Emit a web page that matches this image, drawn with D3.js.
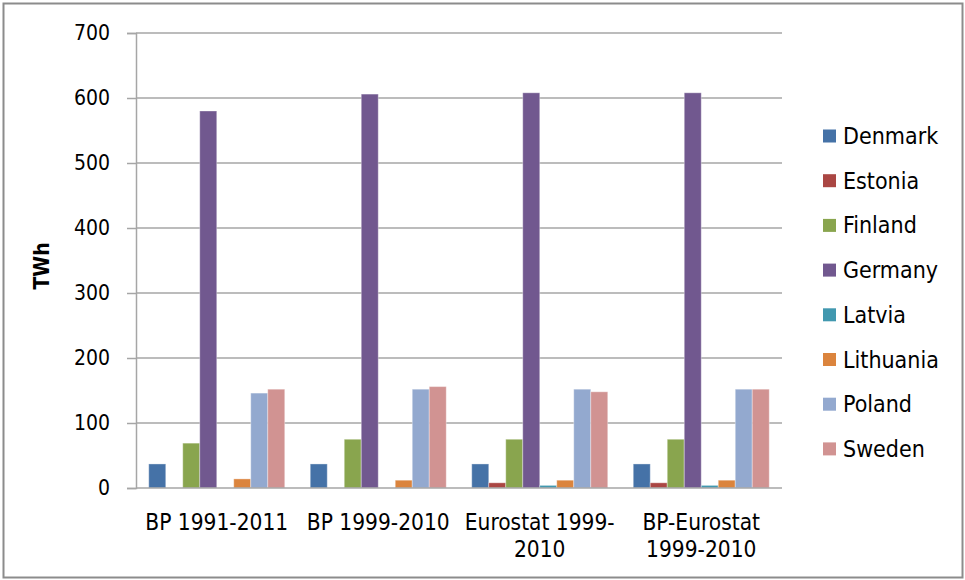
<!DOCTYPE html>
<html>
<head>
<meta charset="utf-8">
<script src="https://cdn.jsdelivr.net/npm/d3@7"></script>
<style>
  body { margin: 0; background: #fff; }
  text { font-family: "DejaVu Sans Condensed", "DejaVu Sans", sans-serif; fill: #000; }
</style>
</head>
<body>
<script>
// Size
var w = 965;
var h = 580;

// Data
var categories = [["BP 1991-2011"], ["BP 1999-2010"], ["Eurostat 1999-", "2010"], ["BP-Eurostat", "1999-2010"]];
var countries = ["Denmark", "Estonia", "Finland", "Germany", "Latvia", "Lithuania", "Poland", "Sweden"];
var colors = ["#4572A7", "#AA4643", "#89A54E", "#71588F", "#4198AF", "#DB843D", "#93A9CF", "#D19392"];
var denmark   = [37, 37, 37, 37];
var estonia   = [0, 0, 8, 8];
var finland   = [69, 75, 75, 75];
var germany   = [580, 606, 608, 608];
var latvia    = [0, 0, 4, 4];
var lithuania = [14, 12, 12, 12];
var poland    = [146, 152, 152, 152];
var sweden    = [152, 156, 148, 152];
var series = [denmark, estonia, finland, germany, latvia, lithuania, poland, sweden];
var yTicks = [0, 100, 200, 300, 400, 500, 600, 700];

var plot = { left: 136, right: 782, top: 33, bottom: 488 };

var svg = d3.select("body")
            .append("svg")
            .attr("width", w)
            .attr("height", h);

// Outer frame
svg.append("rect")
   .attr("x", 3.5).attr("y", 3.5)
   .attr("width", 959).attr("height", 574)
   .attr("fill", "#fff")
   .attr("stroke", "#8c8c8c")
   .attr("stroke-width", 2);

var x0 = d3.scaleBand()
           .domain(d3.range(categories.length))
           .range([plot.left, plot.right])
           .paddingInner(0)
           .paddingOuter(0);

// gap width 150% as in the original
var x1 = d3.scaleBand()
           .domain(d3.range(countries.length))
           .range([x0.bandwidth() * 0.75 / 9.5, x0.bandwidth() - x0.bandwidth() * 0.75 / 9.5])
           .padding(0);

var y = d3.scaleLinear()
          .domain([0, 700])
          .range([plot.bottom, plot.top]);

// Gridlines
svg.append("g")
   .selectAll("line")
   .data(yTicks.slice(1))
   .enter()
   .append("line")
   .attr("x1", plot.left)
   .attr("x2", plot.right)
   .attr("y1", function(d) { return y(d); })
   .attr("y2", function(d) { return y(d); })
   .attr("stroke", "#a6a6a6")
   .attr("stroke-width", 1.5);

// Y axis
var yAxis = svg.append("g")
   .attr("transform", "translate(" + plot.left + ",0)")
   .call(d3.axisLeft(y).tickValues(yTicks).tickSize(9).tickPadding(17));
yAxis.selectAll("path, line").attr("stroke", "#a6a6a6").attr("stroke-width", 1.5);
yAxis.selectAll("text").attr("font-size", "21px").attr("font-family", "DejaVu Sans Condensed");

// Bars
var groups = svg.append("g")
   .selectAll("g")
   .data(categories)
   .enter()
   .append("g")
   .attr("transform", function(d, i) { return "translate(" + x0(i) + ",0)"; });

groups.selectAll("rect")
   .data(function(d, ci) {
     return series.map(function(s, si) { return { si: si, v: s[ci] }; }).filter(function(d) { return d.v > 0; });
   })
   .enter()
   .append("rect")
   .attr("x", function(d) { return x1(d.si); })
   .attr("y", function(d) { return y(d.v); })
   .attr("width", x1.bandwidth())
   .attr("height", function(d) { return y(0) - y(d.v); })
   .attr("fill", function(d) { return colors[d.si]; })
   .attr("stroke", "#fff")
   .attr("stroke-opacity", 0.35)
   .attr("stroke-width", 1);

// X axis line
svg.append("line")
   .attr("x1", plot.left).attr("x2", plot.right)
   .attr("y1", y(0)).attr("y2", y(0))
   .attr("stroke", "#a6a6a6")
   .attr("stroke-width", 1.5);

// Category labels
svg.append("g")
   .selectAll("text")
   .data(categories)
   .enter()
   .append("text")
   .attr("text-anchor", "middle")
   .attr("font-size", "22.5px")
   .attr("x", function(d, i) { return x0(i) + x0.bandwidth() / 2; })
   .attr("y", 530)
   .each(function(d, i) {
     var t = d3.select(this);
     d.forEach(function(line, li) {
       t.append("tspan")
        .attr("x", x0(i) + x0.bandwidth() / 2)
        .attr("dy", li === 0 ? 0 : 27)
        .text(line);
     });
   });

// Y axis title
svg.append("text")
   .attr("transform", "translate(49,266) rotate(-90)")
   .attr("text-anchor", "middle")
   .attr("font-size", "21px")
   .attr("font-weight", "bold")
   .text("TWh");

// Legend
var legend = svg.append("g")
   .selectAll("g")
   .data(countries)
   .enter()
   .append("g")
   .attr("transform", function(d, i) { return "translate(823," + (136 + i * 44.7) + ")"; });

legend.append("rect")
   .attr("x", 0).attr("y", -6.5)
   .attr("width", 13).attr("height", 13)
   .attr("fill", function(d, i) { return colors[i]; });

legend.append("text")
   .attr("x", 20)
   .attr("y", 8)
   .attr("font-size", "23px")
   .text(function(d) { return d; });
</script>
</body>
</html>
